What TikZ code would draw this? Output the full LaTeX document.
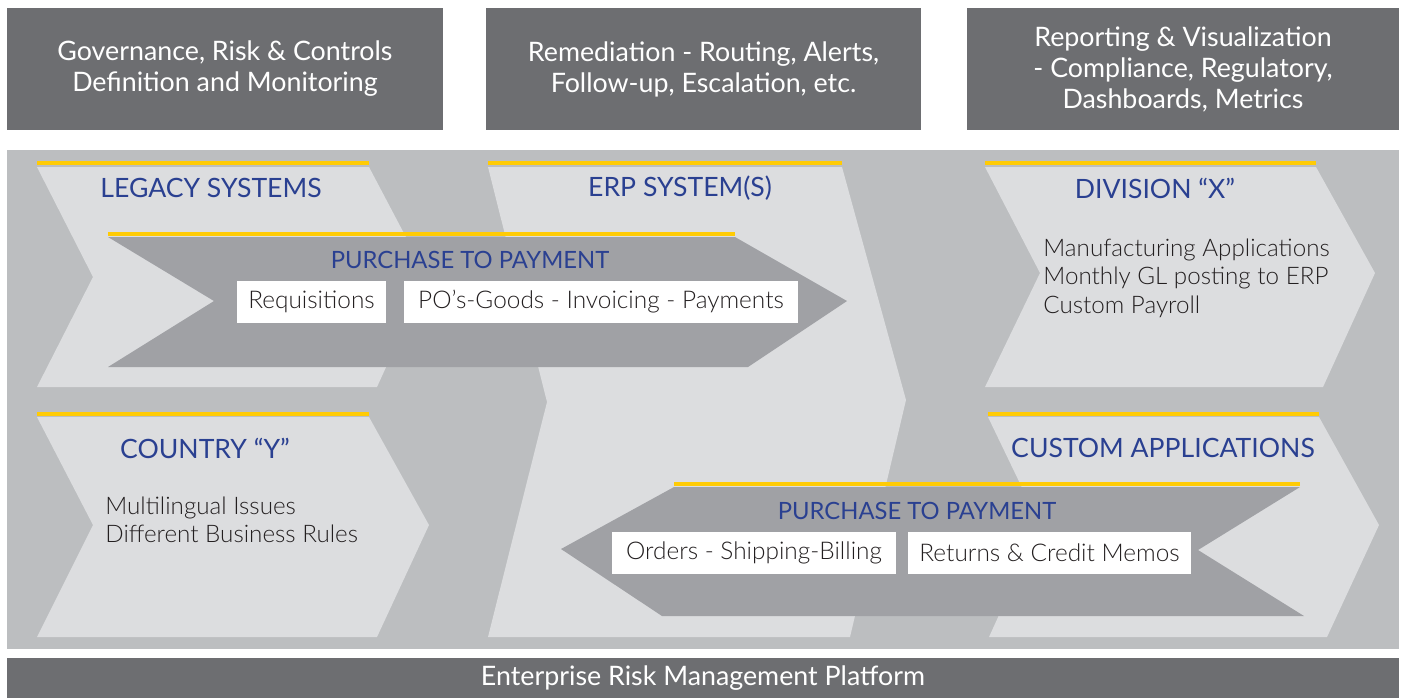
\documentclass[tikz,border=0pt]{standalone}
\usepackage{fontspec}
\setmainfont{Lato}
\newfontfamily\thinfont{Lato Light}
\definecolor{topgray}{RGB}{109,110,113}
\definecolor{panelgray}{RGB}{188,190,192}
\definecolor{chevlight}{RGB}{220,221,223}
\definecolor{arrowgray}{RGB}{160,161,165}
\definecolor{ryellow}{RGB}{255,203,5}
\definecolor{titleblue}{RGB}{42,64,145}
\definecolor{bodytext}{RGB}{35,31,32}
\begin{document}
\begin{tikzpicture}[x=0.5pt,y=-0.5pt,
	hdr/.style={fill=topgray,text=white,align=center,inner sep=0pt,font=\fontsize{13.4}{15.5}\selectfont},
	ttl/.style={text=titleblue,font=\fontsize{13.3}{15}\selectfont},
	ptp/.style={text=titleblue,font=\fontsize{11.9}{14}\selectfont},
	body/.style={text=bodytext,align=left,anchor=west,inner sep=0pt,font=\thinfont\fontsize{12.1}{14.25}\selectfont},
	wbox/.style={fill=white,text=bodytext,minimum height=21pt,inner sep=0pt,font=\thinfont\fontsize{12.2}{14}\selectfont},
	ybar/.style={draw=ryellow,line width=2pt}]
				\useasboundingbox (0,0) rectangle (1406,698);
				
				%top boxes
				\node (gov) at (225,69) [hdr,minimum width=218pt,minimum height=61pt]{Governance, Risk \& Controls\\Definition and Monitoring};
				\node (rem) at (703.5,69) [hdr,minimum width=217.5pt,minimum height=61pt]{Remediation - Routing, Alerts,\\Follow-up, Escalation, etc.};
				\node (rep) at (1183,69) [hdr,minimum width=216pt,minimum height=61pt]{Reporting \& Visualization\\- Compliance, Regulatory,\\Dashboards, Metrics};
				
				%panel
				\fill[panelgray] (7,150) rectangle (1399,649);
				
				%chevrons
				\fill[chevlight] (37,167) -- (369,167) -- (427,277) -- (377,387) -- (37,387) -- (93,277) -- cycle;
				\fill[chevlight] (488,167) -- (842,167) -- (906,400) -- (850,637) -- (488,637) -- (547,402) -- cycle;
				\fill[chevlight] (985,167) -- (1316,167) -- (1375,273) -- (1323,387) -- (985,387) -- (1040,273) -- cycle;
				\fill[chevlight] (37,417) -- (369,417) -- (429,525) -- (377,637) -- (37,637) -- (93,525) -- cycle;
				\fill[chevlight] (988,417) -- (1319,417) -- (1379,525) -- (1327,637) -- (989,637) -- (1040,525) -- cycle;
				\foreach \a/\b in {37/369, 488/842, 985/1316}{
					\draw[ybar] (\a,163)--(\b,163);
				}
				\foreach \a/\b in {37/369, 988/1319}{
					\draw[ybar] (\a,413.5)--(\b,413.5);
				}
				
				%purchase arrows
				\fill[arrowgray] (108,237) -- (735,237) -- (847,301) -- (748,367) -- (108,367) -- (214,301) -- cycle;
				\draw[ybar] (108,234)--(735,234);
				\fill[arrowgray] (674,487) -- (1300,487) -- (1198,550) -- (1304,616) -- (662,616) -- (561,549) -- cycle;
				\draw[ybar] (674,484)--(1300,484);
				
				%titles
				\node (leg) at (211,188) [ttl]{LEGACY SYSTEMS};
				\node (erp) at (680,188) [ttl]{ERP SYSTEM(S)};
				\node (div) at (1155,188) [ttl]{DIVISION “X”};
				\node (cty) at (205,448) [ttl]{COUNTRY “Y”};
				\node (cus) at (1163,448) [ttl]{CUSTOM APPLICATIONS};
				\node (ptp1) at (470,260) [ptp]{PURCHASE TO PAYMENT};
				\node (ptp2) at (917,511) [ptp]{PURCHASE TO PAYMENT};
				
				%white boxes
				\node (req) at (311.5,302) [wbox,minimum width=74.5pt]{Requisitions};
				\node (pos) at (601,302) [wbox,minimum width=197pt]{PO’s-Goods - Invoicing - Payments};
				\node (ord) at (754,553) [wbox,minimum width=142pt]{Orders - Shipping-Billing};
				\node (ret) at (1049.5,553) [wbox,minimum width=141.5pt]{Returns \& Credit Memos};
				
				%body texts
				\node (divtxt) at (1043,278) [body]{Manufacturing Applications\\Monthly GL posting to ERP\\Custom Payroll};
				\node (ctytxt) at (105,520) [body]{Multilingual Issues\\Different Business Rules};
				
				%platform
				\node (erm) at (703,678) [hdr,minimum width=696pt,minimum height=20pt]{Enterprise Risk Management Platform};
			\end{tikzpicture}
\end{document}
